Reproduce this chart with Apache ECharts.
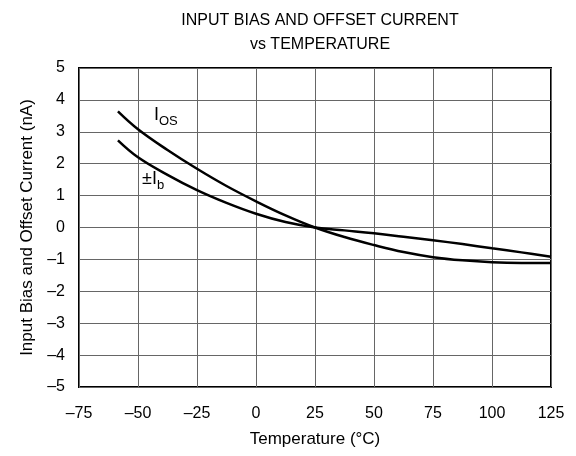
<!DOCTYPE html>
<html>
<head>
<meta charset="utf-8">
<script src="https://cdn.jsdelivr.net/npm/echarts@6/dist/echarts.min.js"></script>
<style>html,body{margin:0;padding:0;background:#fff}#c{width:576px;height:456px}</style>
</head>
<body>
<div id="c"></div>
<script>
var titleLines = ['INPUT BIAS AND OFFSET CURRENT', 'vs TEMPERATURE'];
var xName = 'Temperature (°C)';
var yName = 'Input Bias and Offset Current (nA)';
var temps = [-58.5, -50, -37.5, -25, -12.5, 0, 12.5, 25, 37.5, 50, 62.5, 75, 87.5, 100, 112.5, 125];
var iosValues = [3.64, 3.08, 2.43, 1.84, 1.3, 0.82, 0.38, 0, -0.3, -0.55, -0.77, -0.93, -1.03, -1.09, -1.11, -1.11];
var ibValues = [2.73, 2.2, 1.65, 1.17, 0.77, 0.43, 0.17, 0, -0.09, -0.18, -0.29, -0.4, -0.52, -0.65, -0.78, -0.92];

function pairs(xs, ys) { return xs.map(function (x, i) { return [x, ys[i]]; }); }
function dash(v) { return String(v).replace('-', '\u2013'); }

var font = 'Liberation Sans, Arial, sans-serif';
var chart = echarts.init(document.getElementById('c'), null, {renderer: 'canvas'});
chart.setOption({
  animation: false,
  backgroundColor: '#fff',
  title: {
    text: titleLines.join('\n'),
    left: 315, top: 4, textAlign: 'center',
    textStyle: {fontFamily: font, fontSize: 16, fontWeight: 'normal', color: '#000', lineHeight: 23.5}
  },
  grid: {left: 79, right: 25, top: 68, bottom: 69, show: true, borderColor: '#000', borderWidth: 2, backgroundColor: 'transparent'},
  xAxis: {
    type: 'value', min: -75, max: 125, interval: 25,
    name: xName, nameLocation: 'middle', nameGap: 44,
    nameTextStyle: {fontFamily: font, fontSize: 17, color: '#000'},
    axisLine: {show: false}, axisTick: {show: false},
    axisLabel: {fontFamily: font, fontSize: 16, color: '#000', margin: 19, formatter: dash},
    splitLine: {show: true, lineStyle: {color: '#666', width: 1}}
  },
  yAxis: {
    type: 'value', min: -5, max: 5, interval: 1,
    name: yName, nameLocation: 'middle', nameGap: 42,
    nameTextStyle: {fontFamily: font, fontSize: 17, color: '#000'},
    axisLine: {show: false}, axisTick: {show: false},
    axisLabel: {fontFamily: font, fontSize: 16, color: '#000', margin: 14, formatter: dash},
    splitLine: {show: true, lineStyle: {color: '#666', width: 1}}
  },
  series: [
    {type: 'line', name: 'IOS', data: pairs(temps, iosValues), smooth: 0.4, showSymbol: false,
     lineStyle: {color: '#000', width: 2.5}},
    {type: 'line', name: 'Ib', data: pairs(temps, ibValues), smooth: 0.4, showSymbol: false,
     lineStyle: {color: '#000', width: 2.5}}
  ],
  graphic: [
    {type: 'text', left: 154, top: 106, style: {
      text: '{m|I}{s|OS}', rich: {
        m: {fontFamily: font, fontSize: 18, fill: '#000', verticalAlign: 'top'},
        s: {fontFamily: font, fontSize: 13, fill: '#000', verticalAlign: 'top', padding: [9, 0, 0, 0]}
      }}},
    {type: 'text', left: 142, top: 170, style: {
      text: '{m|\u00b1I}{s|b}', rich: {
        m: {fontFamily: font, fontSize: 18, fill: '#000', verticalAlign: 'top'},
        s: {fontFamily: font, fontSize: 13, fill: '#000', verticalAlign: 'top', padding: [9, 0, 0, 0]}
      }}}
  ]
});
</script>
</body>
</html>
